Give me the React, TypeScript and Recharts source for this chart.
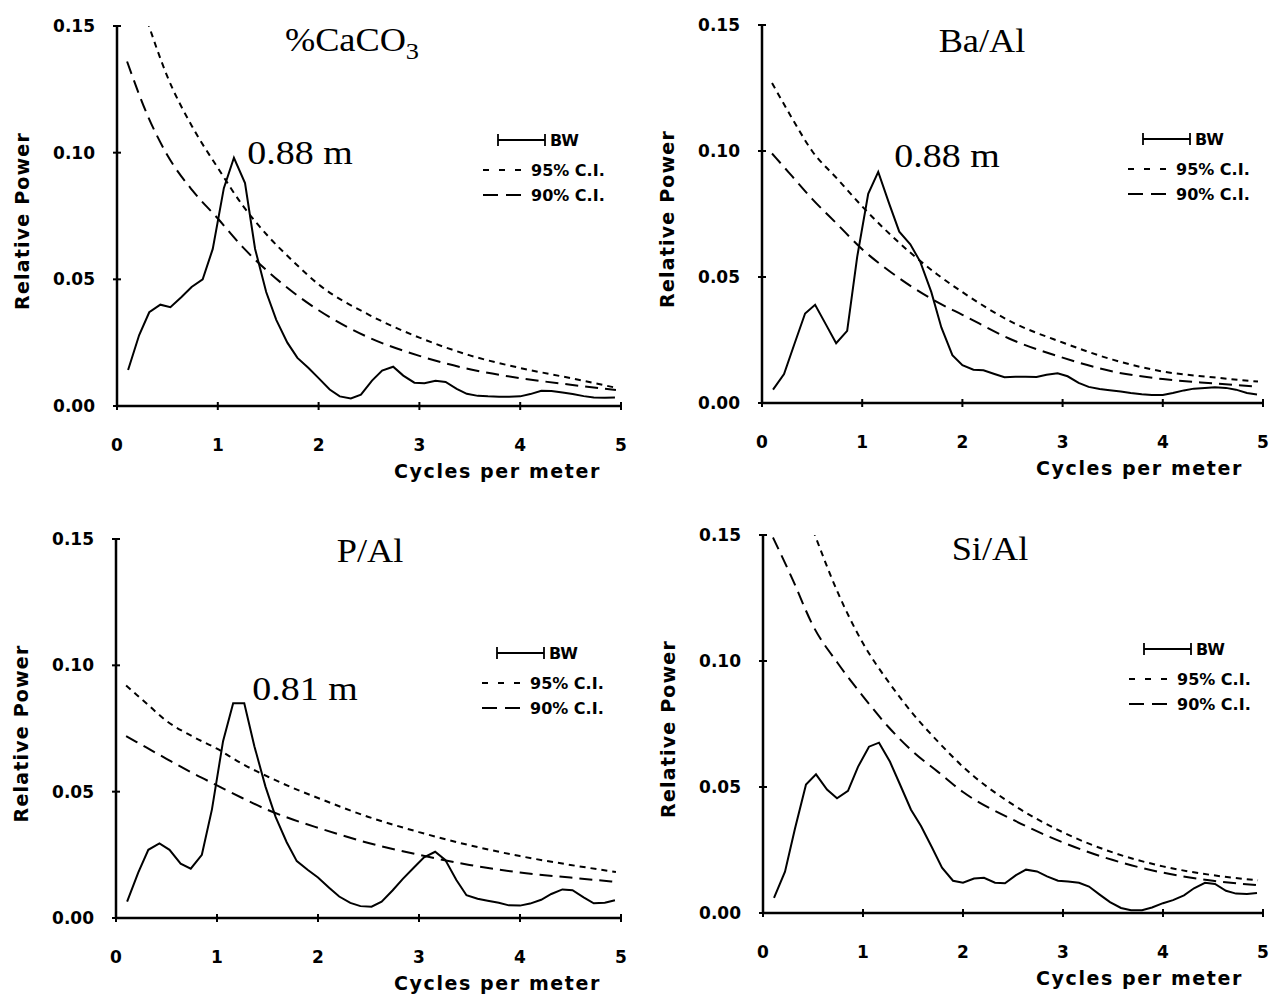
import React from 'react';
import { LineChart, Line, XAxis, YAxis, Label } from 'recharts';

// frequency grid of the spectra (cycles per meter)
const freq = [
  0.11, 0.22, 0.32, 0.43, 0.53, 0.64, 0.74, 0.85, 0.95, 1.06,
  1.16, 1.27, 1.37, 1.48, 1.58, 1.69, 1.79, 1.9, 2.0, 2.11,
  2.21, 2.32, 2.42, 2.53, 2.63, 2.74, 2.84, 2.95, 3.05, 3.16,
  3.26, 3.37, 3.47, 3.58, 3.68, 3.79, 3.89, 4.0, 4.1, 4.21,
  4.31, 4.42, 4.52, 4.63, 4.73, 4.84, 4.94,
];

const caco3Power = [
  0.0142, 0.028, 0.037, 0.04, 0.039, 0.043, 0.047, 0.05, 0.062, 0.086,
  0.098, 0.088, 0.062, 0.045, 0.034, 0.025, 0.019, 0.015, 0.011, 0.0065,
  0.0038, 0.003, 0.0045, 0.01, 0.014, 0.0155, 0.012, 0.0092, 0.009, 0.01,
  0.0095, 0.0068, 0.0048, 0.004, 0.0038, 0.0037, 0.0037, 0.0038, 0.0047, 0.006,
  0.0059, 0.0053, 0.0047, 0.0039, 0.0034, 0.0033, 0.0034,
];

const baAlPower = [
  0.0053, 0.0115, 0.023, 0.0355, 0.039, 0.031, 0.0237, 0.0286, 0.058, 0.083,
  0.0917, 0.079, 0.068, 0.063, 0.056, 0.044, 0.03, 0.019, 0.015, 0.0132,
  0.013, 0.0115, 0.0102, 0.0104, 0.0104, 0.0103, 0.0112, 0.0118, 0.0106, 0.008,
  0.0064, 0.0056, 0.0051, 0.0046, 0.004, 0.0035, 0.0032, 0.0032, 0.004, 0.005,
  0.0057, 0.006, 0.0062, 0.006, 0.0053, 0.004, 0.0034,
];

const pAlPower = [
  0.0065, 0.018, 0.027, 0.0295, 0.027, 0.0215, 0.0195, 0.025, 0.043, 0.07,
  0.085, 0.085, 0.068, 0.052, 0.04, 0.03, 0.0225, 0.019, 0.016, 0.012,
  0.0085, 0.006, 0.0047, 0.0045, 0.0065, 0.011, 0.0155, 0.02, 0.024, 0.0262,
  0.023, 0.015, 0.009, 0.0076, 0.0068, 0.006, 0.005, 0.0049, 0.0057, 0.0072,
  0.0095, 0.0113, 0.011, 0.0082, 0.0058, 0.006, 0.007,
];

const siAlPower = [
  0.006, 0.0164, 0.0335, 0.051, 0.055, 0.049, 0.0455, 0.0485, 0.058, 0.066,
  0.0676, 0.06, 0.051, 0.041, 0.0345, 0.026, 0.018, 0.0128, 0.012, 0.0137,
  0.014, 0.012, 0.0118, 0.015, 0.0172, 0.0165, 0.0145, 0.0128, 0.0125, 0.012,
  0.0105, 0.0072, 0.0043, 0.002, 0.0011, 0.0011, 0.0022, 0.0039, 0.0051, 0.007,
  0.0098, 0.012, 0.0115, 0.0088, 0.0077, 0.0075, 0.0079,
];

// confidence limits, read at these frequencies
const ciFreq = [0.1, 0.3, 0.5, 0.75, 1, 1.25, 1.5, 1.75, 2, 2.5, 3, 3.5, 4, 4.5, 4.95];

const caco3Ci95 = [null, 0.152, 0.13, 0.11, 0.094, 0.079, 0.067, 0.057, 0.048, 0.036, 0.027, 0.02, 0.015, 0.011, 0.0072];
const caco3Ci90 = [0.136, 0.115, 0.099, 0.085, 0.074, 0.0626, 0.053, 0.0448, 0.0378, 0.027, 0.0198, 0.0145, 0.011, 0.0084, 0.0063];
const baAlCi95 = [0.127, 0.113, 0.1, 0.089, 0.078, 0.068, 0.059, 0.051, 0.044, 0.032, 0.024, 0.0172, 0.0125, 0.0102, 0.0085];
const baAlCi90 = [0.099, 0.09, 0.081, 0.071, 0.061, 0.053, 0.046, 0.04, 0.035, 0.025, 0.018, 0.0125, 0.0095, 0.0078, 0.0065];
const pAlCi95 = [0.092, 0.085, 0.078, 0.072, 0.067, 0.061, 0.056, 0.0515, 0.0475, 0.04, 0.034, 0.0288, 0.0245, 0.021, 0.0182];
const pAlCi90 = [0.072, 0.0675, 0.063, 0.0575, 0.0525, 0.0475, 0.0428, 0.039, 0.0357, 0.0297, 0.025, 0.021, 0.018, 0.016, 0.0143];
const siAlCi95 = [null, null, 0.152, 0.127, 0.107, 0.092, 0.079, 0.068, 0.058, 0.043, 0.032, 0.024, 0.0185, 0.015, 0.013];
const siAlCi90 = [0.149, 0.132, 0.114, 0.099, 0.086, 0.074, 0.064, 0.056, 0.048, 0.037, 0.028, 0.021, 0.016, 0.0128, 0.011];

const xTicks = [0, 1, 2, 3, 4, 5];
const yTicks = [0, 0.05, 0.1, 0.15];

const SANS = '"DejaVu Sans", Arial, sans-serif';
const SERIF = '"Liberation Serif", "Times New Roman", serif';

const toPoints = (xs: number[], ys: (number | null)[]) => xs.map((f, i) => ({ f, v: ys[i] }));

const panels = [
  {
    key: 'caco3', box: { x: 0, y: 0, w: 640, h: 490 }, plot: { l: 117, t: 26, r: 621, b: 406 },
    title: '%CaCO', sub: '3', titleX: 352, titleY: 51, peak: '0.88 m', peakX: 300, peakY: 164,
    power: caco3Power, ci95: caco3Ci95, ci90: caco3Ci90,
  },
  {
    key: 'baal', box: { x: 640, y: 0, w: 633, h: 490 }, plot: { l: 762, t: 25, r: 1263, b: 403 },
    title: 'Ba/Al', sub: '', titleX: 982, titleY: 52, peak: '0.88 m', peakX: 947, peakY: 167,
    power: baAlPower, ci95: baAlCi95, ci90: baAlCi90,
  },
  {
    key: 'pal', box: { x: 0, y: 496, w: 640, h: 500 }, plot: { l: 116, t: 539, r: 621, b: 918 },
    title: 'P/Al', sub: '', titleX: 370, titleY: 562, peak: '0.81 m', peakX: 305, peakY: 700,
    power: pAlPower, ci95: pAlCi95, ci90: pAlCi90,
  },
  {
    key: 'sial', box: { x: 640, y: 496, w: 633, h: 500 }, plot: { l: 763, t: 535, r: 1263, b: 913 },
    title: 'Si/Al', sub: '', titleX: 990, titleY: 560, peak: '', peakX: 0, peakY: 0,
    power: siAlPower, ci95: siAlCi95, ci90: siAlCi90,
  },
];

function XTick(props: any) {
  const { x, y, payload } = props;
  return (
    <g>
      <line x1={x} x2={x} y1={y - 4} y2={y + 4} stroke="#000" strokeWidth={2} />
      <text x={x} y={y + 45} textAnchor="middle" fontFamily={SANS} fontWeight="bold" fontSize={17} fill="#000">
        {payload.value}
      </text>
    </g>
  );
}

function YTick(props: any) {
  const { x, y, payload } = props;
  return (
    <g>
      <line x1={x - 4} x2={x + 4} y1={y} y2={y} stroke="#000" strokeWidth={2} />
      <text x={x - 22} y={y + 6} textAnchor="end" fontFamily={SANS} fontWeight="bold" fontSize={17} fill="#000">
        {Number(payload.value).toFixed(2)}
      </text>
    </g>
  );
}

function XTitle(props: any) {
  const vb = props.viewBox || {};
  return (
    <text x={vb.x + vb.width - 20} y={vb.y + 72} textAnchor="end" fontFamily={SANS} fontWeight="bold" fontSize={19} letterSpacing={1.6} fill="#000">
      Cycles per meter
    </text>
  );
}

function YTitle(props: any) {
  const vb = props.viewBox || {};
  const cx = vb.x + vb.width - 95;
  const cy = vb.y + vb.height / 2 + 5;
  return (
    <text x={cx} y={cy} transform={`rotate(-90 ${cx} ${cy})`} textAnchor="middle" dominantBaseline="central" fontFamily={SANS} fontWeight="bold" fontSize={19} letterSpacing={1.2} fill="#000">
      Relative Power
    </text>
  );
}

function Panel({ p }: { p: (typeof panels)[number] }) {
  const { box, plot } = p;
  const xAxisH = 60;
  const margin = {
    top: plot.t - box.y,
    right: box.x + box.w - plot.r,
    bottom: box.y + box.h - plot.b - xAxisH,
    left: 0,
  };
  const ox = box.x;
  const oy = box.y;
  const lx = plot.l - ox;
  const ty = plot.t - oy;
  return (
    <div style={{ position: 'absolute', left: box.x, top: box.y, width: box.w, height: box.h }}>
      <LineChart width={box.w} height={box.h} margin={margin}>
        <XAxis
          type="number"
          dataKey="f"
          domain={[0, 5]}
          ticks={xTicks}
          interval={0}
          allowDataOverflow
          height={xAxisH}
          axisLine={{ stroke: '#000', strokeWidth: 2.5 }}
          tickLine={false}
          tickSize={0}
          tickMargin={0}
          tick={(props: any) => <XTick {...props} />}
          label={<Label content={(lp: any) => <XTitle {...lp} />} />}
        />
        <YAxis
          type="number"
          domain={[0, 0.15]}
          ticks={yTicks}
          interval={0}
          allowDataOverflow
          width={plot.l - box.x}
          axisLine={{ stroke: '#000', strokeWidth: 2.5 }}
          tickLine={false}
          tickSize={0}
          tickMargin={0}
          tick={(props: any) => <YTick {...props} />}
          label={<Label content={(lp: any) => <YTitle {...lp} />} />}
        />
        <Line
          data={toPoints(ciFreq, p.ci95)}
          dataKey="v"
          type="monotone"
          stroke="#000"
          strokeWidth={2}
          strokeDasharray="6 5"
          dot={false}
          isAnimationActive={false}
        />
        <Line
          data={toPoints(ciFreq, p.ci90)}
          dataKey="v"
          type="monotone"
          stroke="#000"
          strokeWidth={2}
          strokeDasharray="13 7"
          dot={false}
          isAnimationActive={false}
        />
        <Line
          data={toPoints(freq, p.power)}
          dataKey="v"
          type="linear"
          stroke="#000"
          strokeWidth={2}
          dot={false}
          isAnimationActive={false}
        />
      </LineChart>
      {/* titles, peak labels and legend */}
      <svg width={box.w} height={box.h} style={{ position: 'absolute', left: 0, top: 0, pointerEvents: 'none' }}>
        <text
          x={p.titleX - ox}
          y={p.titleY - oy}
          textAnchor="middle"
          fontFamily={SERIF}
          fontSize={33}
          fill="#000"
          transform={`translate(${p.titleX - ox} 0) scale(1.1 1) translate(${-(p.titleX - ox)} 0)`}
        >
          {p.title}
          {p.sub ? <tspan dy={8} fontSize={24}>{p.sub}</tspan> : null}
        </text>
        {p.peak ? (
          <text
            x={p.peakX - ox}
            y={p.peakY - oy}
            textAnchor="middle"
            fontFamily={SERIF}
            fontSize={33}
            fill="#000"
            transform={`translate(${p.peakX - ox} 0) scale(1.15 1) translate(${-(p.peakX - ox)} 0)`}
          >
            {p.peak}
          </text>
        ) : null}
        <g fontFamily={SANS} fontWeight="bold" fontSize={16} fill="#000">
          <line x1={lx + 381} x2={lx + 428} y1={ty + 114} y2={ty + 114} stroke="#000" strokeWidth={1.8} />
          <line x1={lx + 381} x2={lx + 381} y1={ty + 108} y2={ty + 120} stroke="#000" strokeWidth={1.8} />
          <line x1={lx + 428} x2={lx + 428} y1={ty + 108} y2={ty + 120} stroke="#000" strokeWidth={1.8} />
          <text x={lx + 433} y={ty + 120}>BW</text>
          <line x1={lx + 366} x2={lx + 404} y1={ty + 144} y2={ty + 144} stroke="#000" strokeWidth={2} strokeDasharray="6 10" />
          <text x={lx + 414} y={ty + 150}>95% C.I.</text>
          <line x1={lx + 366} x2={lx + 404} y1={ty + 169} y2={ty + 169} stroke="#000" strokeWidth={2} strokeDasharray="15 8" />
          <text x={lx + 414} y={ty + 175}>90% C.I.</text>
        </g>
      </svg>
    </div>
  );
}

export default function App() {
  return (
    <div style={{ position: 'absolute', left: 0, top: 0, width: 1273, height: 996, background: '#fff' }}>
      {panels.map(p => (
        <Panel key={p.key} p={p} />
      ))}
    </div>
  );
}
